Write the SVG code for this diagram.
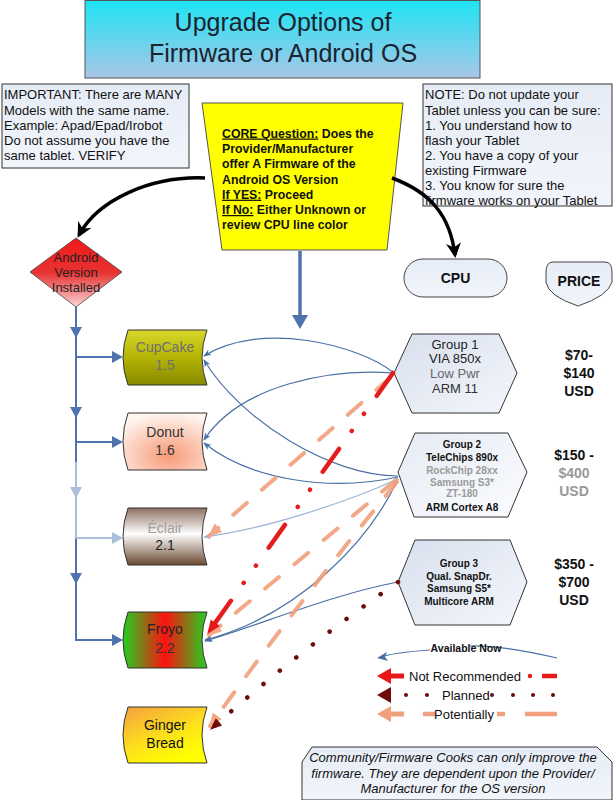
<svg xmlns="http://www.w3.org/2000/svg" width="613" height="800" viewBox="0 0 613 800">
<defs>
<style>
text{font-family:"Liberation Sans",Arial,sans-serif;}
.note{font-size:13px;fill:#111;}
.core{font-size:12.3px;font-weight:bold;fill:#111;}
.nt{font-size:14px;text-anchor:middle;}
.g1{font-size:13px;text-anchor:middle;}
.g2{font-size:10px;font-weight:bold;text-anchor:middle;}
.pr{font-size:14px;font-weight:bold;text-anchor:middle;}
.dk{fill:#111;}
.gr{fill:#9a9a9a;}
.bl{fill:none;stroke:#4a6fa5;stroke-width:1.2;}
.vl{fill:none;stroke:#4f73ae;stroke-width:2;}
.lt{stroke:#a9bfdc;}
.tri{fill:#4f73ae;}
.tril{fill:#a9bfdc;}
.lg{font-size:13px;fill:#111;}
</style>
<linearGradient id="gTitle" x1="0" y1="0" x2="0" y2="1"><stop offset="0" stop-color="#1ee4f4"/><stop offset="1" stop-color="#a9c6e6"/></linearGradient>
<linearGradient id="gBox" x1="0" y1="0" x2="0" y2="1"><stop offset="0" stop-color="#e6ecf6"/><stop offset="1" stop-color="#f2f5fb"/></linearGradient>
<linearGradient id="gHex" x1="0" y1="0" x2="1" y2="1"><stop offset="0" stop-color="#d8e0ee"/><stop offset="1" stop-color="#f4f6fb"/></linearGradient>
<linearGradient id="gHex2" x1="0" y1="0" x2="1" y2="1"><stop offset="0" stop-color="#e6ebf4"/><stop offset="1" stop-color="#fbfcfe"/></linearGradient>
<linearGradient id="gDia" x1="0" y1="0" x2="0" y2="1"><stop offset="0" stop-color="#f01818"/><stop offset="0.5" stop-color="#e83232"/><stop offset="1" stop-color="#fbd4d4"/></linearGradient>
<linearGradient id="gCup" x1="0" y1="0" x2="0" y2="1"><stop offset="0" stop-color="#d8d82c"/><stop offset="0.5" stop-color="#b4b404"/><stop offset="1" stop-color="#888800"/></linearGradient>
<radialGradient id="gDon" cx="0.55" cy="0.75" r="0.75"><stop offset="0" stop-color="#f79a78"/><stop offset="1" stop-color="#fff4ee"/></radialGradient>
<linearGradient id="gEcl" x1="0" y1="0" x2="0" y2="1"><stop offset="0" stop-color="#8e7060"/><stop offset="0.45" stop-color="#ffffff"/><stop offset="1" stop-color="#6a4a32"/></linearGradient>
<linearGradient id="gFro" x1="0" y1="0" x2="1" y2="0"><stop offset="0" stop-color="#1ed21e"/><stop offset="0.5" stop-color="#ff1010"/><stop offset="1" stop-color="#1ed21e"/></linearGradient>
<linearGradient id="gGin" x1="0" y1="0" x2="0.6" y2="1"><stop offset="0" stop-color="#f5a040"/><stop offset="0.6" stop-color="#fde21a"/><stop offset="1" stop-color="#ffff00"/></linearGradient>
<marker id="mB" viewBox="0 0 10 10" refX="9" refY="5" markerWidth="8" markerHeight="8" orient="auto" markerUnits="userSpaceOnUse"><path d="M0,1 L10,5 L0,9 L3,5 Z" fill="#4a6fa5"/></marker>
<marker id="mBl" viewBox="0 0 10 10" refX="9" refY="5" markerWidth="8" markerHeight="8" orient="auto" markerUnits="userSpaceOnUse"><path d="M0,1 L10,5 L0,9 L3,5 Z" fill="#9db4d6"/></marker>
<marker id="mK" viewBox="0 0 10 10" refX="8" refY="5" markerWidth="15" markerHeight="15" orient="auto" markerUnits="userSpaceOnUse"><path d="M0,0 L10,5 L0,10 L3,5 Z" fill="#000"/></marker>
<marker id="mR" viewBox="0 0 10 10" refX="9" refY="5" markerWidth="14" markerHeight="14" orient="auto" markerUnits="userSpaceOnUse"><path d="M0,1 L10,5 L0,9 Z" fill="#e81818"/></marker>
<marker id="mO" viewBox="0 0 10 10" refX="9" refY="5" markerWidth="14" markerHeight="14" orient="auto" markerUnits="userSpaceOnUse"><path d="M0,1 L10,5 L0,9 Z" fill="#f2a07a"/></marker>
<marker id="mD" viewBox="0 0 10 10" refX="9" refY="5" markerWidth="12" markerHeight="12" orient="auto" markerUnits="userSpaceOnUse"><path d="M0,1 L10,5 L0,9 Z" fill="#6e0c0c"/></marker>
</defs>
<rect width="613" height="800" fill="#ffffff"/>

<g id="title">
<rect x="85" y="0.5" width="395" height="77.5" fill="url(#gTitle)" stroke="#555" stroke-width="1"/>
<text x="283" y="31" font-size="25" text-anchor="middle" fill="#1a2430">Upgrade Options of</text>
<text x="283" y="62" font-size="25" text-anchor="middle" fill="#1a2430">Firmware or Android OS</text>
</g>

<g id="important">
<rect x="2" y="84" width="187" height="84" fill="url(#gBox)" stroke="#333" stroke-width="1"/>
<text class="note" x="4" y="99">IMPORTANT: There are MANY</text>
<text class="note" x="4" y="115">Models with the same name.</text>
<text class="note" x="4" y="130">Example: Apad/Epad/Irobot</text>
<text class="note" x="4" y="145">Do not assume you have the</text>
<text class="note" x="4" y="160">same tablet. VERIFY</text>
</g>

<g id="note">
<rect x="423" y="84" width="189" height="122" fill="url(#gBox)" stroke="#333" stroke-width="1"/>
<text class="note" x="425" y="99">NOTE: Do not update your</text>
<text class="note" x="425" y="115">Tablet unless you can be sure:</text>
<text class="note" x="425" y="130">1. You understand how to</text>
<text class="note" x="425" y="145">flash your Tablet</text>
<text class="note" x="425" y="160">2. You have a copy of your</text>
<text class="note" x="425" y="175">existing Firmware</text>
<text class="note" x="425" y="190">3. You know for sure the</text>
<text class="note" x="425" y="205">firmware works on your Tablet</text>
</g>

<g id="core">
<path d="M202,103 L403,103 L387,250 L222,250 Z" fill="#ffff00" stroke="#555" stroke-width="1"/>
<text class="core" x="222" y="137.5"><tspan text-decoration="underline">CORE Question:</tspan> Does the</text>
<text class="core" x="222" y="152.7">Provider/Manufacturer</text>
<text class="core" x="222" y="168">offer A Firmware of the</text>
<text class="core" x="222" y="183.5">Android OS Version</text>
<text class="core" x="222" y="198.7"><tspan text-decoration="underline">If YES:</tspan> Proceed</text>
<text class="core" x="222" y="214"><tspan text-decoration="underline">If No:</tspan> Either Unknown or</text>
<text class="core" x="222" y="229.3">review CPU line color</text>
</g>

<g id="diamond">
<path d="M76,238 L122,272 L76,307 L30,272 Z" fill="url(#gDia)" stroke="#444" stroke-width="0.8"/>
<text x="76" y="261.5" font-size="13" text-anchor="middle" fill="#222">Android</text>
<text x="76" y="276.5" font-size="13" text-anchor="middle" fill="#222">Version</text>
<text x="76" y="291.5" font-size="13" text-anchor="middle" fill="#222">Installed</text>
</g>

<g id="cupcake">
<path d="M128,330 L207,330 Q197,357.5 207,385 L128,385 Q118,357.5 128,330 Z" fill="url(#gCup)" stroke="#333"/>
<text class="nt" x="165" y="352" fill="#6e6e6e">CupCake</text>
<text class="nt" x="165" y="370" fill="#6e6e6e">1.5</text>
</g>
<g id="donut">
<path d="M128,413 L207,413 Q197,441.5 207,470 L128,470 Q118,441.5 128,413 Z" fill="url(#gDon)" stroke="#333"/>
<text class="nt" x="165" y="437" fill="#333">Donut</text>
<text class="nt" x="165" y="455" fill="#333">1.6</text>
</g>
<g id="eclair">
<path d="M128,508 L207,508 Q197,536.5 207,565 L128,565 Q118,536.5 128,508 Z" fill="url(#gEcl)" stroke="#333"/>
<text class="nt" x="165" y="533" fill="#a0a0a0">Éclair</text>
<text class="nt" x="165" y="550" fill="#222">2.1</text>
</g>
<g id="froyo">
<path d="M128,612 L207,612 Q197,640 207,668 L128,668 Q118,640 128,612 Z" fill="url(#gFro)" stroke="#333"/>
<text class="nt" x="165" y="634" fill="#222">Froyo</text>
<text class="nt" x="165" y="653" fill="#333">2.2</text>
</g>
<g id="ginger">
<path d="M128,707 L207,707 Q197,735 207,763 L128,763 Q118,735 128,707 Z" fill="url(#gGin)" stroke="#333"/>
<text class="nt" x="165" y="730" fill="#111">Ginger</text>
<text class="nt" x="165" y="748" fill="#111">Bread</text>
</g>

<g id="cpu">
<rect x="404" y="259" width="103" height="38" rx="19" fill="url(#gBox)" stroke="#444" stroke-width="1"/>
<text x="455.5" y="283" font-size="14" font-weight="bold" text-anchor="middle" fill="#111">CPU</text>
</g>
<g id="price">
<path d="M553,262 L605,262 Q612,262 612,272 L612,282 Q608,296 578,306 Q548,296 546,282 L546,272 Q546,262 553,262 Z" fill="url(#gBox)" stroke="#444" stroke-width="1"/>
<text x="579" y="286" font-size="14" font-weight="bold" text-anchor="middle" fill="#111">PRICE</text>
</g>

<g id="group1">
<path d="M394,373 L412,334 L499,334 L517,373 L499,413 L412,413 Z" fill="url(#gHex)" stroke="#333" stroke-width="1"/>
<text class="g1" x="455" y="348.5" fill="#222">Group 1</text>
<text class="g1" x="455" y="363" fill="#222">VIA 850x</text>
<text class="g1" x="455" y="378" fill="#666">Low Pwr</text>
<text class="g1" x="455" y="393" fill="#333">ARM 11</text>
</g>
<g id="price1">
<text class="pr dk" x="579" y="360">$70-</text>
<text class="pr dk" x="579" y="378">$140</text>
<text class="pr dk" x="579" y="396">USD</text>
</g>

<g id="group2">
<path d="M398,472 L415,433 L508,433 L527,472 L508,517 L414,517 Z" fill="url(#gHex2)" stroke="#333" stroke-width="1"/>
<text class="g2 dk" x="462" y="448">Group 2</text>
<text class="g2 dk" x="462" y="461">TeleChips 890x</text>
<text class="g2 gr" x="462" y="474">RockChip 28xx</text>
<text class="g2 gr" x="462" y="486">Samsung S3*</text>
<text class="g2 gr" x="462" y="497">ZT-180</text>
<text class="g2 dk" x="462" y="511">ARM Cortex A8</text>
</g>
<g id="price2">
<text class="pr dk" x="574" y="460">$150 -</text>
<text class="pr gr" x="574" y="478">$400</text>
<text class="pr gr" x="574" y="496">USD</text>
</g>

<g id="group3">
<path d="M398,582 L415,540 L510,540 L527,582 L510,625 L415,625 Z" fill="url(#gHex)" stroke="#333" stroke-width="1"/>
<text class="g2 dk" x="459" y="567">Group 3</text>
<text class="g2 dk" x="459" y="580">Qual. SnapDr.</text>
<text class="g2 dk" x="459" y="592">Samsung S5*</text>
<text class="g2 dk" x="459" y="605">Multicore ARM</text>
</g>
<g id="price3">
<text class="pr dk" x="574" y="569">$350 -</text>
<text class="pr dk" x="574" y="587">$700</text>
<text class="pr dk" x="574" y="605">USD</text>
</g>

<g id="connectors">
<path d="M205,178 C150,176 98,200 79,235" fill="none" stroke="#000" stroke-width="3.5" marker-end="url(#mK)"/>
<path d="M392,178 C430,192 450,215 455,255" fill="none" stroke="#000" stroke-width="3.5" marker-end="url(#mK)"/>
<line x1="300" y1="251" x2="300" y2="318" stroke="#4f73ae" stroke-width="3.5"/>
<path d="M292,315 L308,315 L300,329 Z" fill="#4f73ae"/>

<path class="vl" d="M76,307 L76,462"/>
<path class="vl lt" d="M76,462 L76,538"/>
<path class="vl" d="M76,538 L76,640 L114,640"/>
<path class="vl" d="M76,357 L114,357"/>
<path class="vl" d="M76,442 L114,442"/>
<path class="vl lt" d="M76,538 L114,538"/>
<path class="tri" d="M70,327 L82,327 L76,338 Z"/>
<path class="tri" d="M70,407 L82,407 L76,418 Z"/>
<path class="tril" d="M70,487 L82,487 L76,498 Z"/>
<path class="tri" d="M70,573 L82,573 L76,584 Z"/>
<path class="tri" d="M112,351 L123,357 L112,363 Z"/>
<path class="tri" d="M112,436 L123,442 L112,448 Z"/>
<path class="tril" d="M112,532 L123,538 L112,544 Z"/>
<path class="tri" d="M112,634 L123,640 L112,646 Z"/>

<path class="bl" d="M394,373 C360,345 260,320 204,356" marker-end="url(#mB)"/>
<path class="bl" d="M394,373 C330,368 240,385 204,440" marker-end="url(#mB)"/>
<path class="bl" d="M398,476 C330,476 240,420 204,360" marker-end="url(#mB)"/>
<path class="bl" d="M398,477 C330,492 250,480 204,443" marker-end="url(#mB)"/>
<path class="bl" d="M398,479 C340,505 260,530 204,537" style="stroke:#9db4d6" marker-end="url(#mBl)"/>
<path class="bl" d="M398,479 C370,540 300,615 205,640" marker-end="url(#mB)"/>
<path class="bl" d="M398,582 C330,595 260,625 205,641" marker-end="url(#mB)"/>

<path d="M390,378 L209,536" fill="none" stroke="#f0a07c" stroke-width="4" stroke-linecap="round" stroke-dasharray="18 20" opacity="0.9" marker-end="url(#mO)"/>
<path d="M396,480 L209,635" fill="none" stroke="#f0a07c" stroke-width="4" stroke-linecap="round" stroke-dasharray="18 20" opacity="0.9" marker-end="url(#mO)"/>
<path d="M397,482 Q300,600 210,726" fill="none" stroke="#f0a07c" stroke-width="4" stroke-linecap="round" stroke-dasharray="18 20" opacity="0.9" marker-end="url(#mO)"/>
<path d="M398,582 Q300,650 211,729" fill="none" stroke="#6e0c0c" stroke-width="4.5" stroke-linecap="round" stroke-dasharray="0.1 21" marker-end="url(#mD)"/>
<path d="M393,373 L208,633" fill="none" stroke="#e41c1c" stroke-width="4.5" stroke-linecap="round" stroke-dasharray="28 22 0.1 21 0.1 22" marker-end="url(#mR)"/>
</g>

<g id="legend">
<path d="M557,658 Q500,645 470,646 M430,650 Q400,652 384,656" fill="none" stroke="#4a6fa5" stroke-width="1.2"/>
<path d="M377,658 L387,652 L385,657 L388,661 Z" fill="#4a6fa5"/>
<text x="466" y="652" font-size="10.5" font-weight="bold" text-anchor="middle" fill="#111">Available Now</text>
<line x1="389" y1="676" x2="404" y2="676" stroke="#e81818" stroke-width="5"/>
<path d="M377,676 L391,668 L391,684 Z" fill="#e81818"/>
<text class="lg" x="409" y="681">Not Recommended</text>
<circle cx="530" cy="676" r="2.2" fill="#e81818"/>
<line x1="542" y1="676" x2="557" y2="676" stroke="#e81818" stroke-width="4.5"/>
<path d="M377,695 L391,687 L391,703 Z" fill="#6e0c0c"/>
<circle cx="406" cy="695" r="2" fill="#6e0c0c"/>
<circle cx="427" cy="695" r="2" fill="#6e0c0c"/>
<text class="lg" x="442" y="700">Planned</text>
<circle cx="492" cy="695" r="2" fill="#6e0c0c"/>
<circle cx="513" cy="695" r="2" fill="#6e0c0c"/>
<circle cx="533" cy="695" r="2" fill="#6e0c0c"/>
<circle cx="553" cy="695" r="2" fill="#6e0c0c"/>
<line x1="389" y1="714" x2="404" y2="714" stroke="#f0a07c" stroke-width="5"/>
<path d="M377,714 L391,706 L391,722 Z" fill="#f0a07c"/>
<line x1="423" y1="714" x2="435" y2="714" stroke="#f0a07c" stroke-width="4.5"/>
<text class="lg" x="434" y="719">Potentially</text>
<line x1="497" y1="714" x2="505" y2="714" stroke="#f0a07c" stroke-width="4.5"/>
<line x1="525" y1="714" x2="557" y2="714" stroke="#f0a07c" stroke-width="4.5"/>
</g>

<g id="community">
<path d="M302,762 L312,747 L597,747 L612,762 L612,800 L302,800 Z" fill="url(#gBox)" stroke="#333" stroke-width="1"/>
<text x="453" y="762" font-size="13" font-style="italic" text-anchor="middle" fill="#111">Community/Firmware Cooks can only improve the</text>
<text x="453" y="778" font-size="13" font-style="italic" text-anchor="middle" fill="#111">firmware. They are dependent upon the Provider/</text>
<text x="453" y="793" font-size="13" font-style="italic" text-anchor="middle" fill="#111">Manufacturer for the OS version</text>
</g>
</svg>
